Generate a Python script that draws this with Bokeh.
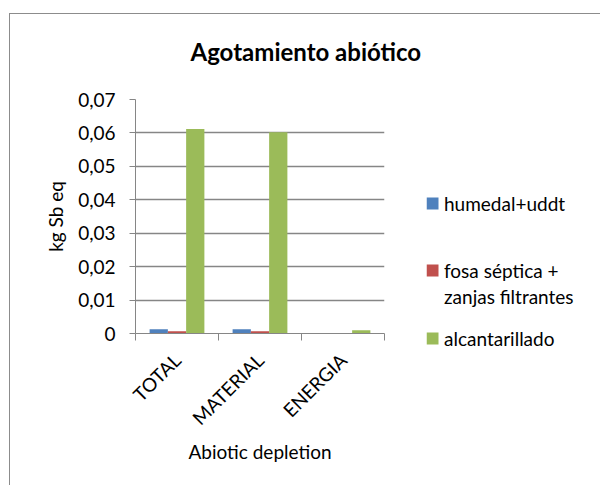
import math
from bokeh.plotting import figure
from bokeh.layouts import row
from bokeh.models import (Range1d, LinearAxis, FixedTicker,
                          CustomJSTickFormatter, ColumnDataSource)
from bokeh.core.properties import value
from bokeh.embed import file_html
from bokeh.resources import INLINE

# ---- data ----
title_text = "Agotamiento abiótico"
categories = ["TOTAL", "MATERIAL", "ENERGIA"]
series_names = ["humedal+uddt", "fosa séptica +\nzanjas filtrantes", "alcantarillado"]
humedal_uddt = [0.0013, 0.0013, 0.0]
fosa_septica = [0.0007, 0.0007, 0.0]
alcantarillado = [0.0612, 0.0602, 0.0010]
y_ticks = [0.0, 0.01, 0.02, 0.03, 0.04, 0.05, 0.06, 0.07]
y_label = "kg Sb eq"
x_label = "Abiotic depletion"

# ---- style ----
FONT = "Lato"
GREY = "#868686"
colors = ["#4F81BD", "#C0504D", "#9BBB59"]

n = len(categories)
centers = [i + 0.5 for i in range(n)]
bw = 0.22

X0, Y0 = 9, 13          # page position of the chart area
P_W, P_H = 416, 471
p = figure(x_range=Range1d(0, n), y_range=Range1d(0, y_ticks[-1]),
           width=P_W, height=P_H,
           min_border_left=125, min_border_right=P_W - 125 - 249,
           min_border_top=85, min_border_bottom=P_H - 85 - 234,
           x_axis_location=None, output_backend="svg", toolbar_location=None)
p.frame_align = False

renderers = []
for vals, off, col in zip([humedal_uddt, fosa_septica, alcantarillado], [-bw, 0.0, bw], colors):
    src = ColumnDataSource(data=dict(x=[c + off for c in centers], top=vals))
    r = p.vbar(x="x", top="top", width=bw, source=src, fill_color=col, line_color=None)
    renderers.append(r)

# y axis
ya = p.yaxis[0]
ya.ticker = FixedTicker(ticks=y_ticks)
ya.formatter = CustomJSTickFormatter(code="return tick == 0 ? '0' : tick.toFixed(2).replace('.', ',');")
ya.major_tick_out = 6
ya.major_tick_in = 0
ya.minor_tick_line_color = None
ya.axis_line_color = GREY
ya.major_tick_line_color = GREY
ya.major_label_standoff = 14
ya.major_label_text_font = FONT
ya.major_label_text_font_size = "19px"
ya.major_label_text_color = "black"
ya.axis_label = y_label
ya.axis_label_text_font = FONT
ya.axis_label_text_font_size = "19px"
ya.axis_label_text_font_style = "normal"
ya.axis_label_text_color = "black"
ya.axis_label_standoff = 8

p.ygrid.ticker = FixedTicker(ticks=y_ticks)
p.ygrid.grid_line_color = GREY
p.ygrid.grid_line_width = 1.3
for g in p.xgrid:
    g.visible = False
p.outline_line_color = None

# boundary ticks axis (category separators)
bax = LinearAxis(ticker=FixedTicker(ticks=list(range(n + 1))),
                 formatter=CustomJSTickFormatter(code="return '';"),
                 major_label_text_font_size="0px", major_label_standoff=0,
                 major_tick_out=7, major_tick_in=0, minor_tick_line_color=None,
                 axis_line_color=GREY, major_tick_line_color=GREY)
p.add_layout(bax, "below")

cax = LinearAxis(ticker=FixedTicker(ticks=centers),
                 formatter=CustomJSTickFormatter(args=dict(cats=categories),
                                                 code="return cats[Math.floor(tick)];"),
                 major_label_orientation=math.pi / 4, axis_line_color=None,
                 major_tick_line_color=None, minor_tick_line_color=None,
                 major_tick_out=0, major_tick_in=0,
                 major_label_standoff=16, major_label_text_font=FONT,
                 major_label_text_font_size="19px", major_label_text_color="black",
                 axis_label=x_label, axis_label_text_font=FONT, axis_label_text_font_size="19px",
                 axis_label_text_font_style="normal", axis_label_text_color="black",
                 axis_label_standoff=0)
p.add_layout(cax, "below")

# title (a trailing blank line lifts it away from the plot area)
p.title.text = title_text + "\n "
p.title.text_font = FONT
p.title.text_font_size = "24px"
p.title.text_font_style = "bold"
p.title.text_color = "black"
p.title.align = "left"
p.title.offset = 55
p.title.standoff = 9

# ---- legend panel (separate figure to the right, page-pixel coordinates) ----
L_W = 174
q = figure(x_range=Range1d(X0 + P_W, X0 + P_W + L_W), y_range=Range1d(Y0 + P_H, Y0),
           width=L_W, height=P_H,
           min_border=0, x_axis_location=None, y_axis_location=None,
           output_backend="svg", toolbar_location=None)
q.frame_align = False
q.outline_line_color = None
for g in list(q.xgrid) + list(q.ygrid):
    g.visible = False

sq_x, txt_x = 431, 442.5
row_y = [202, 269, 337]          # vertical centres of the legend entries (page px)
line_gap = 26
sq_src = ColumnDataSource(data=dict(x=[sq_x] * len(series_names), y=row_y, c=colors))
q.scatter(x="x", y="y", marker="square", size=12, fill_color="c", line_color=None, source=sq_src)
tx, ty, tt = [], [], []
for name, yy in zip(series_names, row_y):
    for k, line in enumerate(name.split("\n")):
        tx.append(txt_x)
        ty.append(yy + k * line_gap)
        tt.append(line)
q.text(x=tx, y=ty, text=tt, text_baseline="middle", text_align="left",
       text_font=value(FONT), text_font_size=value("19px"), text_color="black")

lay = row(p, q, spacing=0, margin=(Y0, 0, 0, X0),
          styles={"border-left": "1px solid #8c8c8c", "border-top": "1px solid #8c8c8c"})

open("out.html", "w").write(file_html(lay, INLINE))
